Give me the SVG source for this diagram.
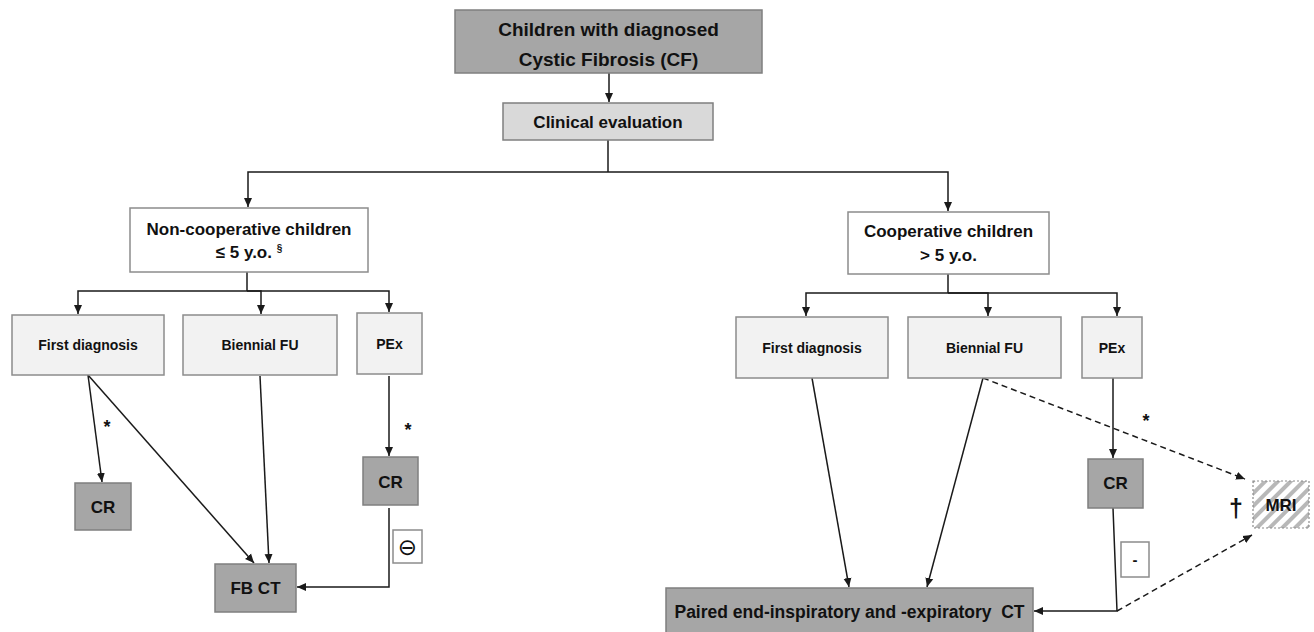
<svg xmlns="http://www.w3.org/2000/svg" width="1314" height="632" viewBox="0 0 1314 632">
<style>
text{font-family:"Liberation Sans",Arial,sans-serif;font-weight:bold;fill:#111;text-anchor:middle}
.dark{fill:#a6a6a6;stroke:#7f7f7f;stroke-width:1.5}
.mid{fill:#d9d9d9;stroke:#7f7f7f;stroke-width:1.5}
.light{fill:#f2f2f2;stroke:#8c8c8c;stroke-width:1.5}
.white{fill:#fff;stroke:#8c8c8c;stroke-width:1.5}
.c{fill:none;stroke:#1a1a1a;stroke-width:1.5}
.a{marker-end:url(#ah)}
.d{stroke-dasharray:6 4}
</style>
<defs>
<marker id="ah" markerWidth="10" markerHeight="10" refX="9" refY="5" orient="auto" markerUnits="userSpaceOnUse">
<path d="M0,1 L9,5 L0,9 z" fill="#1a1a1a"/>
</marker>
<pattern id="hatch" width="9" height="9" patternUnits="userSpaceOnUse" patternTransform="rotate(45)">
<rect width="9" height="9" fill="#fff"/>
<rect x="0" y="0" width="4" height="9" fill="#b8b8b8"/>
</pattern>
</defs>

<g id="connectors">
<path class="c a" d="M609,73 V102"/>
<path class="c" d="M608,140 V172"/>
<path class="c a" d="M608,172 H248 V207"/>
<path class="c a" d="M608,172 H948 V211"/>
<path class="c" d="M247,272 V291"/>
<path class="c a" d="M247,291 H78 V314"/>
<path class="c a" d="M247,291 H261 V314"/>
<path class="c a" d="M247,291 H389 V312"/>
<path class="c" d="M948,274 V293"/>
<path class="c a" d="M948,293 H806 V316"/>
<path class="c a" d="M948,293 H988 V316"/>
<path class="c a" d="M948,293 H1117 V316"/>
<path class="c a" d="M88,375 L102,482"/>
<path class="c a" d="M88,375 L254,563"/>
<path class="c a" d="M260,376 L269,563"/>
<path class="c a" d="M389,376 V456"/>
<path class="c a" d="M389,508 V587 H297"/>
<path class="c a" d="M812,378 L849,587"/>
<path class="c a" d="M983,378 L927,587"/>
<path class="c a" d="M1113,378 V458"/>
<path class="c a" d="M1113,508 L1117,611 H1034"/>
<path class="c a d" d="M983,378 L1245,479"/>
<path class="c a d" d="M1117,611 L1252,535"/>
<text x="107" y="433" font-size="18">*</text>
<text x="408" y="436" font-size="18">*</text>
<text x="1146" y="427" font-size="18">*</text>
<text x="1236" y="517" font-size="25">†</text>
<g id="minus-circle"><rect class="white" x="393" y="530" width="29" height="33"/>
<text x="407.5" y="555" font-size="23" style="font-family:'DejaVu Sans',sans-serif;font-weight:normal">⊖</text></g>
<g id="minus"><rect class="white" x="1121" y="542" width="28" height="35"/>
<text x="1135" y="565" font-size="15">-</text></g>
</g>

<g id="n-root"><rect class="dark" x="455" y="10" width="307" height="63"/>
<text x="608.5" y="36" font-size="19">Children with diagnosed</text>
<text x="608.5" y="66" font-size="19">Cystic Fibrosis (CF)</text></g>

<g id="n-clinical"><rect class="mid" x="503" y="103" width="210" height="37"/>
<text x="608" y="128" font-size="17">Clinical evaluation</text></g>

<g id="n-noncoop"><rect class="white" x="130" y="208" width="238" height="64"/>
<text x="249" y="235" font-size="17">Non-cooperative children</text>
<text x="249" y="258" font-size="17">≤ 5 y.o. <tspan font-size="10" dy="-6">§</tspan></text></g>

<g id="n-coop"><rect class="white" x="848" y="212" width="201" height="62"/>
<text x="948.5" y="237" font-size="17">Cooperative children</text>
<text x="948.5" y="261" font-size="17">&gt; 5 y.o.</text></g>

<g id="n-first-l"><rect class="light" x="12" y="315" width="152" height="60"/>
<text x="88" y="350" font-size="14">First diagnosis</text></g>
<g id="n-bien-l"><rect class="light" x="183" y="315" width="154" height="60"/>
<text x="260" y="350" font-size="14">Biennial FU</text></g>
<g id="n-pex-l"><rect class="light" x="357" y="313" width="65" height="61"/>
<text x="389.5" y="349" font-size="14">PEx</text></g>

<g id="n-cr-l1"><rect class="dark" x="75" y="483" width="56" height="47"/>
<text x="103" y="513" font-size="17">CR</text></g>
<g id="n-cr-l2"><rect class="dark" x="363" y="457" width="55" height="48"/>
<text x="390.5" y="488" font-size="17">CR</text></g>
<g id="n-fbct"><rect class="dark" x="215" y="564" width="81" height="48"/>
<text x="255.5" y="594" font-size="17">FB CT</text></g>

<g id="n-first-r"><rect class="light" x="736" y="317" width="152" height="61"/>
<text x="812" y="353" font-size="14">First diagnosis</text></g>
<g id="n-bien-r"><rect class="light" x="908" y="317" width="153" height="61"/>
<text x="984.5" y="353" font-size="14">Biennial FU</text></g>
<g id="n-pex-r"><rect class="light" x="1082" y="317" width="60" height="61"/>
<text x="1112" y="353" font-size="14">PEx</text></g>

<g id="n-cr-r"><rect class="dark" x="1088" y="459" width="55" height="49"/>
<text x="1115.5" y="489" font-size="17">CR</text></g>

<g id="n-mri"><rect x="1253" y="481" width="56" height="47" fill="url(#hatch)" stroke="#8c8c8c" stroke-width="1.2" stroke-dasharray="2 2"/>
<text x="1281" y="511" font-size="17">MRI</text></g>

<g id="n-paired"><rect class="dark" x="666" y="588" width="367" height="50"/>
<text x="849.5" y="618" font-size="17.5" style="white-space:pre">Paired end-inspiratory and -expiratory  CT</text></g>
</svg>
